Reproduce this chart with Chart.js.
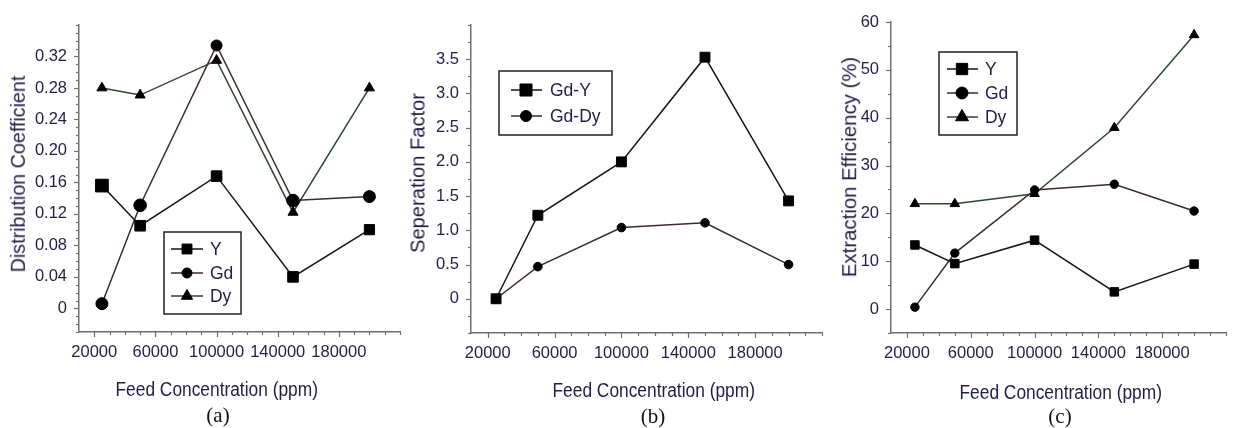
<!DOCTYPE html>
<html><head><meta charset="utf-8">
<script src="https://cdn.jsdelivr.net/npm/chart.js@4/dist/chart.umd.min.js"></script>
<style>
body{margin:0;background:#fff;width:1233px;height:428px;overflow:hidden;position:relative;font-family:"Liberation Sans",Arial,sans-serif}
canvas{position:absolute;top:0}
.t{position:absolute;white-space:nowrap;font-size:20px;line-height:20px;color:#1e1e46}
.cap{position:absolute;transform:translate(-50%,-50%);font-family:"Liberation Serif","Times New Roman",serif;font-size:21px;color:#111}
</style></head><body>
<canvas id="ca" width="410" height="428" style="left:0px"></canvas>
<canvas id="cb" width="430" height="428" style="left:400px"></canvas>
<canvas id="cc" width="403" height="428" style="left:830px"></canvas>
<div class="t" data-cx="216" data-cy="389" data-w="202" data-rot="0">Feed Concentration (ppm)</div>
<div class="t" data-cx="653" data-cy="390" data-w="202" data-rot="0">Feed Concentration (ppm)</div>
<div class="t" data-cx="1060" data-cy="392" data-w="202" data-rot="0">Feed Concentration (ppm)</div>
<div class="t" data-cx="18" data-cy="174" data-w="197" data-rot="1">Distribution Coefficient</div>
<div class="t" data-cx="417" data-cy="173" data-w="160" data-rot="1">Seperation Factor</div>
<div class="t" data-cx="849" data-cy="167" data-w="220" data-rot="1">Extraction Efficiency (%)</div>
<div class="cap" style="left:218px;top:415px">(a)</div>
<div class="cap" style="left:653px;top:416px">(b)</div>
<div class="cap" style="left:1060px;top:416px">(c)</div>
<script>
// ---- data ----
const feedConc = [25000, 50000, 100000, 150000, 200000];
// (a) Distribution coefficient
const distY  = [0.156, 0.105, 0.168, 0.040, 0.100];
const distGd = [0.006, 0.131, 0.334, 0.137, 0.142];
const distDy = [0.280, 0.271, 0.315, 0.122, 0.280];
// (b) Separation factor
const sepGdY  = [0, 1.22, 2.00, 3.53, 1.43];
const sepGdDy = [0, 0.47, 1.04, 1.11, 0.50];
// (c) Extraction efficiency (%)
const effY  = [13.4, 9.5, 14.4, 3.6, 9.4];
const effGd = [0.4, 11.7, 24.9, 26.1, 20.5];
const effDy = [22.0, 22.0, 24.1, 37.9, 57.3];
// tick labels
const xTickLabels = [20000, 60000, 100000, 140000, 180000];
const yTickLabelsA = [0, 0.04, 0.08, 0.12, 0.16, 0.20, 0.24, 0.28, 0.32];
const yTickLabelsB = [0, 0.5, 1.0, 1.5, 2.0, 2.5, 3.0, 3.5];
const yTickLabelsC = [0, 10, 20, 30, 40, 50, 60];

const TXT = '#1e1e46';
const AX = '#707070';
const FAMILY = '"Liberation Sans", Arial, sans-serif';
Chart.defaults.font.family = FAMILY;

// fit axis titles (narrow look of the original) to their measured lengths
document.querySelectorAll('.t').forEach(el => {
  const w = el.offsetWidth, h = el.offsetHeight;
  const s = (+el.dataset.w) / w;
  el.style.left = (+el.dataset.cx - w/2) + 'px';
  el.style.top = (+el.dataset.cy - h/2) + 'px';
  el.style.transform = (el.dataset.rot === '1' ? 'rotate(-90deg) ' : '') + 'scale(' + s + ',1)';
});

function range(min, max, step){ const out=[]; const n=Math.round((max-min)/step); for(let i=0;i<=n;i++) out.push(Math.round((min+i*step)*1e6)/1e6); return out; }
function has(list, v){ return list.some(t => Math.abs(t - v) < 1e-9); }

function drawMarker(ctx, style, r, x, y){
  if (Chart.helpers && Chart.helpers.drawPoint) {
    Chart.helpers.drawPoint(ctx, {pointStyle: style, radius: r, rotation: 0, borderWidth: 1}, x, y);
    return;
  }
  ctx.beginPath();
  if (style === 'rect') { const s = r*Math.SQRT1_2; ctx.rect(x-s, y-s, 2*s, 2*s); }
  else if (style === 'triangle') { ctx.moveTo(x, y-r); ctx.lineTo(x+r*0.866, y+r/2); ctx.lineTo(x-r*0.866, y+r/2); ctx.closePath(); }
  else ctx.arc(x, y, r, 0, Math.PI*2);
  ctx.fill(); ctx.stroke();
}

const boxLegend = {
  id: 'boxLegend',
  afterDatasetsDraw(chart, args, o) {
    const ctx = chart.ctx, off = o.offset;
    ctx.save();
    ctx.strokeStyle = '#222'; ctx.lineWidth = 1.5;
    ctx.strokeRect(o.box[0]-off, o.box[1], o.box[2]-o.box[0], o.box[3]-o.box[1]);
    chart.data.datasets.forEach((ds, i) => {
      const y = o.rows[i];
      ctx.strokeStyle = ds.borderColor; ctx.lineWidth = 1.5;
      ctx.beginPath(); ctx.moveTo(o.lineX[0]-off, y); ctx.lineTo(o.lineX[1]-off, y); ctx.stroke();
      ctx.fillStyle = '#000'; ctx.strokeStyle = '#000'; ctx.lineWidth = 1;
      drawMarker(ctx, ds.pointStyle, o.radii[i], o.markerX-off, y);
      ctx.fillStyle = TXT; ctx.font = '19px ' + FAMILY;
      ctx.textBaseline = 'middle'; ctx.textAlign = 'left';
      ctx.save(); ctx.translate(o.textX-off, y+1); ctx.scale(0.92, 1);
      ctx.fillText(ds.label, 0, 0);
      ctx.restore();
    });
    ctx.restore();
  }
};

const tickMarks = {
  id: 'tickMarks',
  afterDraw(chart) {
    const ctx = chart.ctx, a = chart.chartArea, sx = chart.scales.x, sy = chart.scales.y;
    ctx.save(); ctx.strokeStyle = AX; ctx.lineWidth = 1.2;
    sx.ticks.forEach(t => {
      const px = Math.round(sx.getPixelForValue(t.value)) + 0.5, len = t.label ? 5 : 3;
      ctx.beginPath(); ctx.moveTo(px, a.bottom); ctx.lineTo(px, a.bottom + len); ctx.stroke();
    });
    sy.ticks.forEach(t => {
      const py = Math.round(sy.getPixelForValue(t.value)) + 0.5, len = t.label ? 5 : 3;
      ctx.beginPath(); ctx.moveTo(a.left, py); ctx.lineTo(a.left - len, py); ctx.stroke();
    });
    ctx.restore();
  }
};

function series(label, ys, color, style, radius){
  return {label, data: feedConc.map((x,i)=>({x, y: ys[i]})), borderColor: color, backgroundColor: '#000',
    pointBackgroundColor: '#000', pointBorderColor: '#000', pointBorderWidth: 1, pointStyle: style,
    pointRadius: radius, borderWidth: 1.5, tension: 0, fill: false};
}

function makeChart(id, p){
  const canvas = document.getElementById(id);
  const W = canvas.width, H = canvas.height;
  return new Chart(canvas, {
    type: 'line',
    data: {datasets: p.datasets},
    plugins: [tickMarks, boxLegend],
    options: {
      responsive: false, animation: false, devicePixelRatio: 1,
      layout: {padding: {top: p.area.top, right: W - (p.area.right - p.left), bottom: 0, left: 0}},
      plugins: {legend: {display: false}, tooltip: {enabled: false},
        boxLegend: Object.assign({offset: p.left}, p.legend)},
      scales: {
        x: {type: 'linear', min: 10000, max: 220000,
          afterBuildTicks: s => { s.ticks = range(20000, 220000, 10000).map(v => ({value: v})); },
          afterFit: s => { s.height = H - p.area.bottom; },
          ticks: {autoSkip: false, maxRotation: 0, minRotation: 0, padding: 6, color: TXT, font: {size: 16.5},
            callback: v => has(xTickLabels, v) ? String(v) : ''},
          grid: {display: true, drawOnChartArea: false, drawTicks: true, tickLength: 5, tickColor: 'rgba(0,0,0,0)'},
          border: {display: true, color: AX, width: 1.5}},
        y: {type: 'linear', min: p.yMin, max: p.yMax,
          afterBuildTicks: s => { s.ticks = range(p.yTickStart, p.yMax, p.yStep).map(v => ({value: v})); },
          afterFit: s => { s.width = p.area.left - p.left; },
          ticks: {autoSkip: false, padding: 7, color: TXT, font: {size: 16.5},
            callback: v => has(p.yLabels, v) ? p.fmt(v) : ''},
          grid: {display: true, drawOnChartArea: false, drawTicks: true, tickLength: 5, tickColor: 'rgba(0,0,0,0)'},
          border: {display: true, color: AX, width: 1.5},
          title: {display: false, text: p.yTitle}}
      }
    }
  });
}

makeChart('ca', {
  left: 0, area: {left: 79, top: 25, right: 405, bottom: 332},
  yMin: -0.03, yMax: 0.36, yTickStart: -0.03, yStep: 0.01, yLabels: yTickLabelsA,
  fmt: v => v === 0 ? '0' : v.toFixed(2), yTitle: 'Distribution Coefficient',
  datasets: [
    series('Y', distY, '#151515', 'rect', [9, 7.5, 7.5, 7.5, 7.2]),
    series('Gd', distGd, '#3e2a2a', 'circle', [6, 6.3, 5.5, 6.3, 6]),
    series('Dy', distDy, '#2d472d', 'triangle', 5.8)
  ],
  legend: {box: [164, 232, 241, 314], rows: [249, 273, 296], lineX: [171, 203], markerX: 187, textX: 210, radii: [7, 5, 6.5]}
});

makeChart('cb', {
  left: 400, area: {left: 471, top: 25, right: 826, bottom: 333},
  yMin: -0.5, yMax: 4.0, yTickStart: -0.5, yStep: 0.25, yLabels: yTickLabelsB,
  fmt: v => v === 0 ? '0' : v.toFixed(1), yTitle: 'Seperation Factor',
  datasets: [
    series('Gd-Y', sepGdY, '#151515', 'rect', 7),
    series('Gd-Dy', sepGdDy, '#3e2a2a', 'circle', 4.3)
  ],
  legend: {box: [499, 71, 612, 135], rows: [90, 116], lineX: [511, 542], markerX: 526, textX: 550, radii: [8.5, 5.5]}
});

makeChart('cc', {
  left: 830, area: {left: 891, top: 22, right: 1230, bottom: 333},
  yMin: -5, yMax: 60, yTickStart: -5, yStep: 5, yLabels: yTickLabelsC,
  fmt: v => String(v), yTitle: 'Extraction Efficiency (%)',
  datasets: [
    series('Y', effY, '#151515', 'rect', 6),
    series('Gd', effGd, '#3e2a2a', 'circle', 4.2),
    series('Dy', effDy, '#2d472d', 'triangle', 5.5)
  ],
  legend: {box: [939, 52, 1017, 135], rows: [69, 93, 117], lineX: [947, 978], markerX: 962, textX: 985, radii: [8, 6, 7.5]}
});
</script>
</body></html>
